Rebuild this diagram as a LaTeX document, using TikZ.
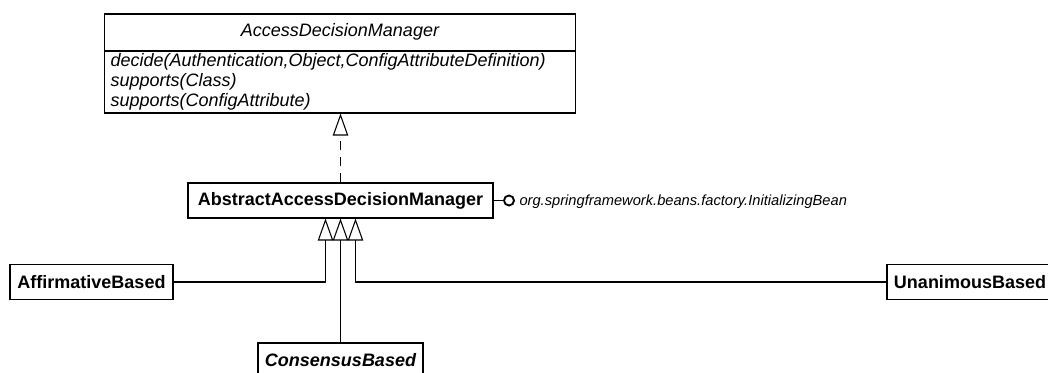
\documentclass[tikz,border=0pt]{standalone}
\usepackage{fontspec}
\setmainfont{Liberation Sans}
\usetikzlibrary{arrows.meta,calc}
\begin{document}
\begin{tikzpicture}[x=0.75pt,y=-0.75pt,
  line width=0.8pt,
  box/.style={draw, line width=0.8pt, minimum height=26.25pt, inner sep=0pt,
    font=\fontsize{13.5}{16}\selectfont\bfseries},
  gen/.style={-{Triangle[open,length=16.5pt,width=11.5pt]}, line width=0.8pt},
  real/.style={gen, dash pattern=on 7pt off 5pt},
  mtxt/.style={inner sep=0pt, anchor=base west, font=\fontsize{13.5}{16}\selectfont\itshape}]
\useasboundingbox (0,0) rectangle (1048,373);

% interface AccessDecisionManager
\node[draw, minimum width=353.25pt, minimum height=74.25pt, inner sep=0pt] (adm) at (340,63.5) {};
\coordinate (dl) at (104.5,51);
\draw (dl) -- (dl -| adm.east);
\node[inner sep=0pt, anchor=base, font=\fontsize{13.5}{16}\selectfont\itshape] (admtitle) at (340,36.5) {AccessDecisionManager};
\node[mtxt] (m1) at (110,67) {decide(Authentication,Object,ConfigAttributeDefinition)};
\node[mtxt] (m2) at (110,87) {supports(Class)};
\node[mtxt] (m3) at (110,107) {supports(ConfigAttribute)};

% AbstractAccessDecisionManager
\node[box, minimum width=228.75pt] (abs) at (340.5,200.5) {AbstractAccessDecisionManager};
\draw[real] (abs.north) -- (abs.north |- adm.south);

% lollipop interface
\node[circle, draw, line width=1.4pt, minimum size=7.5pt, inner sep=0pt] (ib) at (509,200.5) {};
\draw[line width=1.2pt] (abs.east) -- (ib.west);
\node[anchor=west, inner sep=0pt, font=\fontsize{11}{13}\selectfont\itshape] (iblabel) at (519,202) {org.springframework.beans.factory.InitializingBean};

% subclasses
\node[box, minimum width=122.25pt] (aff) at (91.5,282) {AffirmativeBased};
\node[box, minimum width=124.5pt] (una) at (970,282) {UnanimousBased};
\node[box, minimum width=123.75pt, font=\fontsize{13.5}{16}\selectfont\bfseries\itshape] (con) at (340.5,360.5) {ConsensusBased};

\coordinate (j1) at ($(abs.south)+(-15,0)$);
\coordinate (j3) at ($(abs.south)+(15,0)$);
\draw[gen] (aff.east) -| (j1);
\draw[gen] (con.north) -- (abs.south);
\draw[gen] (una.west) -| (j3);
\end{tikzpicture}
\end{document}
